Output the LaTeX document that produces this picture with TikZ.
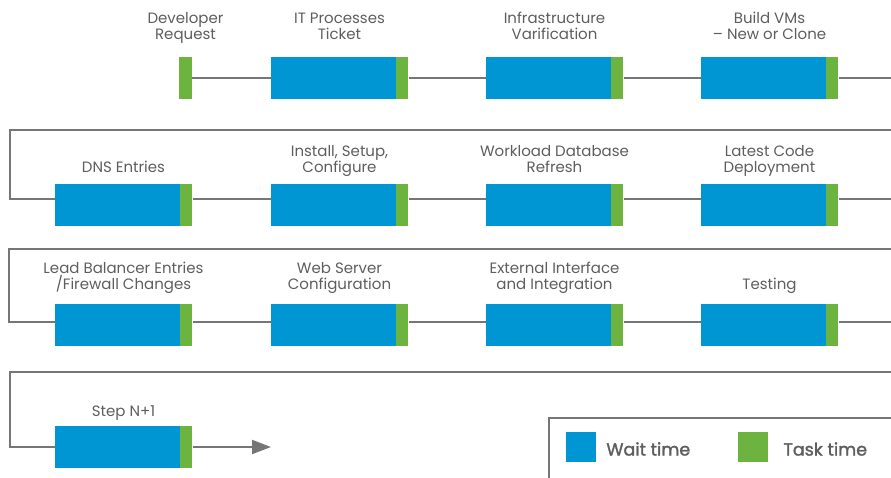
\documentclass[tikz,border=0pt]{standalone}
\usepackage{fontspec}
\setmainfont{Poppins}
\newfontfamily\keyfont{Poppins}[FakeBold=1.6]
\usetikzlibrary{positioning, arrows.meta}

\definecolor{waitblue}{HTML}{0095D3}
\definecolor{taskgreen}{HTML}{6DB33F}
\definecolor{linegray}{HTML}{767676}
\definecolor{textgray}{HTML}{5E5E5E}

\tikzset{
  wait/.style = {rectangle, fill=waitblue, minimum width=125pt, minimum height=42pt, inner sep=0pt},
  task/.style = {rectangle, fill=taskgreen, minimum width=12pt, minimum height=42pt, inner sep=0pt},
  lbl/.style  = {font=\fontsize{15}{16}\selectfont, text=textgray, align=center, inner sep=0pt, text depth=0pt},
  conn/.style = {draw=linegray, line width=2pt},
  key/.style  = {rectangle, minimum size=30pt, inner sep=0pt},
  keytext/.style = {font=\fontsize{17.5}{20}\keyfont, text=textgray, inner sep=0pt, anchor=west, yshift=-2pt}
}

\begin{document}
\begin{tikzpicture} [x=1pt, y=-1pt]
    \useasboundingbox (0,0) rectangle (891,477);

    % row 1
    \node (dev) [task, minimum width=13pt] at (185.5,78) {};
    \node (w1) [wait] at (333.5,78) {};
    \node (t1) [task, right=0pt of w1] {};
    \node (w2) [wait] at (548.5,78) {};
    \node (t2) [task, right=0pt of w2] {};
    \node (w3) [wait] at (763.5,78) {};
    \node (t3) [task, right=0pt of w3] {};
    \coordinate (e1) at (895,78);

    \node [lbl, above=17pt of dev] {Developer\\Request};
    \node [lbl, above=17pt of w1, xshift=6pt] {IT Processes\\Ticket};
    \node [lbl, above=17pt of w2, xshift=6pt] {Infrastructure\\Varification};
    \node [lbl, above=17pt of w3, xshift=6pt] {Build VMs\\– New or Clone};

    \draw[conn] (dev) -- (w1);
    \draw[conn] (t1) -- (w2);
    \draw[conn] (t2) -- (w3);
    \draw[conn] (t3) -- (e1);

    % row 2
    \node (w4) [wait] at (117.5,205) {};
    \node (t4) [task, right=0pt of w4] {};
    \node (w5) [wait] at (333.5,205) {};
    \node (t5) [task, right=0pt of w5] {};
    \node (w6) [wait] at (548.5,205) {};
    \node (t6) [task, right=0pt of w6] {};
    \node (w7) [wait] at (763.5,205) {};
    \node (t7) [task, right=0pt of w7] {};
    \coordinate (s2) at (895,130);
    \coordinate (c2) at (10,130);
    \coordinate (e2) at (895,198.5);

    \node [lbl, above=11pt of w4, xshift=6pt] {DNS Entries};
    \node [lbl, above=11pt of w5, xshift=6pt] {Install, Setup,\\Configure};
    \node [lbl, above=11pt of w6, xshift=6pt] {Workload Database\\Refresh};
    \node [lbl, above=11pt of w7, xshift=6pt] {Latest Code\\Deployment};

    \draw[conn] (s2) -- (c2) |- ([yshift=6.5pt]w4.west);
    \draw[conn] ([yshift=6.5pt]t4.east) -- ([yshift=6.5pt]w5.west);
    \draw[conn] ([yshift=6.5pt]t5.east) -- ([yshift=6.5pt]w6.west);
    \draw[conn] ([yshift=6.5pt]t6.east) -- ([yshift=6.5pt]w7.west);
    \draw[conn] ([yshift=6.5pt]t7.east) -- (e2);

    % row 3
    \node (w8) [wait] at (117.5,325) {};
    \node (t8) [task, right=0pt of w8] {};
    \node (w9) [wait] at (333.5,325) {};
    \node (t9) [task, right=0pt of w9] {};
    \node (w10) [wait] at (548.5,325) {};
    \node (t10) [task, right=0pt of w10] {};
    \node (w11) [wait] at (763.5,325) {};
    \node (t11) [task, right=0pt of w11] {};
    \coordinate (s3) at (895,249);
    \coordinate (c3) at (9,249);
    \coordinate (e3) at (895,321.5);

    \node [lbl, above=14pt of w8, xshift=6pt] {Lead Balancer Entries\\/Firewall Changes};
    \node [lbl, above=14pt of w9, xshift=6pt] {Web Server\\Configuration};
    \node [lbl, above=14pt of w10, xshift=6pt] {External Interface\\and Integration};
    \node [lbl, above=14pt of w11, xshift=6pt] {Testing};

    \draw[conn] (s3) -- (c3) |- ([yshift=3.5pt]w8.west);
    \draw[conn] ([yshift=3.5pt]t8.east) -- ([yshift=3.5pt]w9.west);
    \draw[conn] ([yshift=3.5pt]t9.east) -- ([yshift=3.5pt]w10.west);
    \draw[conn] ([yshift=3.5pt]t10.east) -- ([yshift=3.5pt]w11.west);
    \draw[conn] ([yshift=3.5pt]t11.east) -- (e3);

    % row 4
    \node (w12) [wait] at (117.5,447) {};
    \node (t12) [task, right=0pt of w12] {};
    \coordinate (s4) at (895,372);
    \coordinate (c4) at (10,372);
    \coordinate (e4) at (271,447);

    \node [lbl, above=9pt of w12, xshift=6pt] {Step N+1};

    \draw[conn] (s4) -- (c4) |- (w12);
    \draw[conn, -{Triangle[length=19pt, width=14pt]}] (t12) -- (e4);

    % legend
    \draw[conn] (549,482) -- (549,417.5) -- (895,417.5);
    \node (kw) [key, fill=waitblue] at (581,447) {};
    \node [keytext, right=10pt of kw] {Wait time};
    \node (kt) [key, fill=taskgreen] at (753,447) {};
    \node [keytext, right=15pt of kt] {Task time};
\end{tikzpicture}
\end{document}
